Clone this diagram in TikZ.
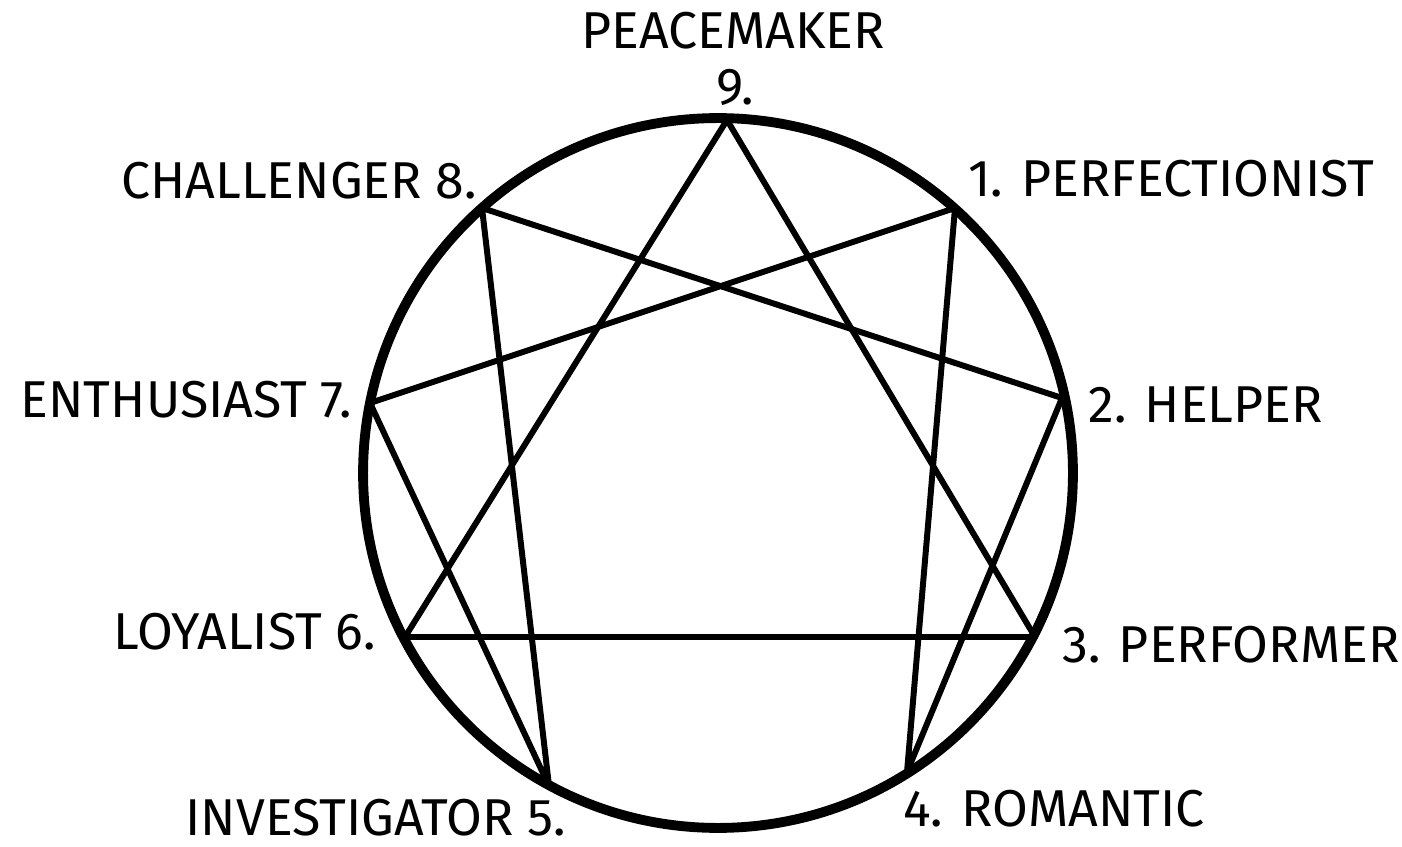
\documentclass[tikz,border=0pt]{standalone}
\usepackage{fontspec}
\setmainfont{Fira Sans}
\usetikzlibrary{positioning}
\tikzset{
  ring/.style={line width=5.6pt},
  link/.style={line width=3.4pt, line join=round},
  type/.style={font=\fontsize{29.5}{32}\selectfont, inner sep=0pt},
}

\begin{document}
\begin{tikzpicture}[x=0.02cm, y=-0.02cm]
\useasboundingbox (0,0) rectangle (1402,847);
\coordinate (c) at (718,473);
\draw[ring] (c) circle [radius=7.1cm];

% points on the ring
\coordinate (p9) at (727,120);
\coordinate (p1) at (955,208);
\coordinate (p2) at (1062,398);
\coordinate (p3) at (1035,637);
\coordinate (p4) at (907,772);
\coordinate (p5) at (549,786);
\coordinate (p6) at (405,637);
\coordinate (p7) at (370,403);
\coordinate (p8) at (482,208);

\draw[link] (p9) -- (p3) -- (p6) -- cycle;
\draw[link] (p1) -- (p4) -- (p2) -- (p8) -- (p5) -- (p7) -- cycle;

% labels
\node[type] (peace) at (733,31) {PEACEMAKER};
\node[type] (n9) at (735,87) {9.};
\node[type, anchor=east] (chal) at (477,181) {CHALLENGER 8.};
\node[type, anchor=west] (perf) at (968,179) {1. PERFECTIONIST};
\node[type, anchor=east] (enth) at (352,400) {ENTHUSIAST 7.};
\node[type, anchor=west] (help) at (1088,405) {2. HELPER};
\node[type, anchor=east] (loyal) at (376,632) {LOYALIST 6.};
\node[type, anchor=west] (perfo) at (1062,645) {3. PERFORMER};
\node[type, anchor=east] (inv) at (566,818) {INVESTIGATOR 5.};
\node[type, anchor=west] (rom) at (903,809) {4. ROMANTIC};
\end{tikzpicture}
\end{document}
